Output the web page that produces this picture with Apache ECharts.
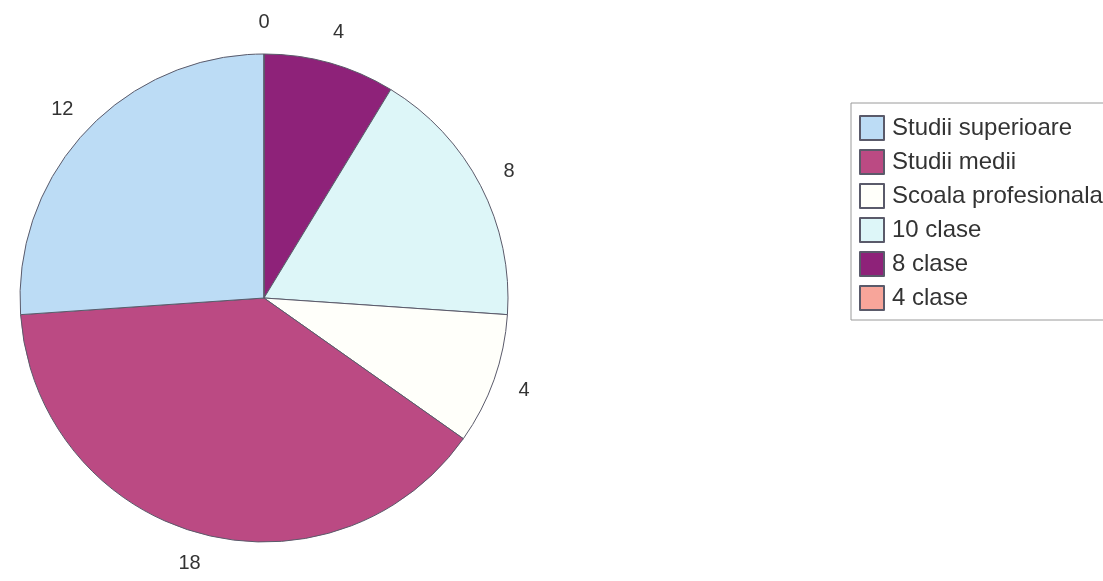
<!DOCTYPE html>
<html>
<head>
<meta charset="utf-8">
<title>Pie</title>
<script src="https://cdn.jsdelivr.net/npm/echarts@6/dist/echarts.min.js"></script>
<style>
  html, body { margin: 0; padding: 0; background: #fff; }
  #chart { width: 1103px; height: 581px; }
</style>
</head>
<body>
<div id="chart"></div>
<script>
// slices in drawing order (clockwise from the top)
var categories = ['8 clase', '10 clase', 'Scoala profesionala', 'Studii medii', 'Studii superioare', '4 clase']
var values = [4, 8, 4, 18, 12, 0]
var colors = ['#8e2279', '#ddf6f8', '#fffffa', '#bb4a83', '#bcdcf5', '#f7a59a']
// legend reads top to bottom in this order
var legendOrder = ['Studii superioare', 'Studii medii', 'Scoala profesionala', '10 clase', '8 clase', '4 clase']

var cx = 264, cy = 298, R = 244
var labelR = 276

var total = 0
values.forEach(function (v) { total += v })

var chart = echarts.init(document.getElementById('chart'))

var pieData = []
for (let i = 0; i < categories.length; i++) {
  pieData.push({
    name: categories[i],
    value: values[i],
    itemStyle: { color: colors[i] }
  })
}

// put each value centred on the slice's middle angle, a bit outside the rim
function midAngle(idx) {
  let before = 0
  for (let i = 0; i < idx; i++) before += values[i]
  return (before + values[idx] / 2) / total * Math.PI * 2
}

chart.setOption({
  animation: false,
  legend: {
    orient: 'vertical',
    left: 851,
    top: 103,
    data: legendOrder,
    icon: 'rect',
    itemWidth: 24,
    itemHeight: 24,
    itemGap: 8,
    padding: [12, 30, 9, 8],
    borderColor: '#9a9a9a',
    borderWidth: 1,
    textStyle: {
      fontFamily: 'Liberation Sans, Arial, sans-serif',
      fontSize: 24,
      lineHeight: 24,
      color: '#333',
      padding: [0, 0, 0, 3]
    }
  },
  series: [
    {
      type: 'pie',
      center: [cx, cy],
      radius: R,
      startAngle: 90,
      clockwise: true,
      avoidLabelOverlap: false,
      data: pieData,
      itemStyle: {
        borderColor: '#5a5a6a',
        borderWidth: 1
      },
      label: {
        show: true,
        position: 'outside',
        formatter: '{c}',
        fontFamily: 'Liberation Sans, Arial, sans-serif',
        fontSize: 20,
        color: '#333'
      },
      labelLine: {
        show: false
      },
      labelLayout: function (params) {
        let a = midAngle(params.dataIndex)
        return {
          x: cx + labelR * Math.sin(a),
          y: cy - labelR * Math.cos(a),
          align: 'center',
          verticalAlign: 'middle'
        }
      },
      emphasis: { disabled: true }
    }
  ]
})
</script>
</body>
</html>
